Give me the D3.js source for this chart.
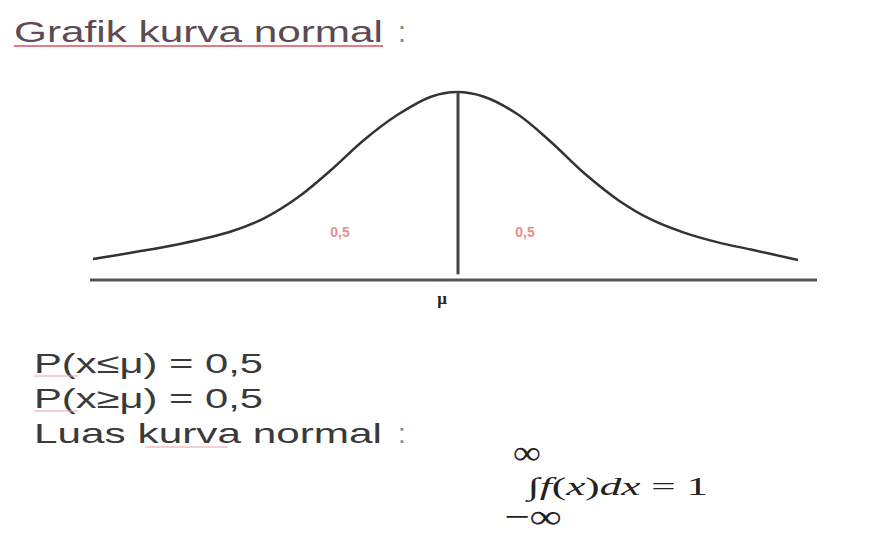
<!DOCTYPE html>
<html><head><meta charset="utf-8">
<script src="https://cdn.jsdelivr.net/npm/d3@7"></script>
<style>html,body{margin:0;padding:0;background:#fff;}svg{display:block;}</style>
</head><body>
<svg id="c" width="871" height="544"></svg>
<script>
// curve sample points (x relative to mu, y relative height above axis)
const curveX = [-3.64,-3.26,-2.76,-2.26,-1.93,-1.59,-1.26,-0.93,-0.59,-0.26,0,0.27,0.61,0.94,1.27,1.61,1.94,2.27,2.61,2.94,3.41];
const curveY = [0.112,0.145,0.193,0.258,0.328,0.440,0.585,0.745,0.880,0.975,1.0,0.975,0.880,0.734,0.569,0.426,0.322,0.252,0.200,0.162,0.106];
const axisExtent = [-3.67, 3.60];
const muValue = 0;
const areaLabels = ["0,5", "0,5"];
const areaLabelX = [-1.17, 0.68];
const areaLabelY = [0.26, 0.26];
const muLabel = "μ";
const title = "Grafik kurva normal";
const textLines = ["P(x≤μ) = 0,5", "P(x≥μ) = 0,5", "Luas kurva normal"];

const svg = d3.select("#c");
const x = d3.scaleLinear().domain(axisExtent).range([90, 817]);
const y = d3.scaleLinear().domain([0, 1]).range([280, 92]);

// title
svg.append("text").attr("x", 14).attr("y", 42)
  .attr("font-family", "Liberation Sans, Arial, sans-serif").attr("font-size", 29)
  .attr("fill", "#5e4a52").attr("textLength", 369).attr("lengthAdjust", "spacingAndGlyphs")
  .text(title);
svg.append("line").attr("x1", 14).attr("x2", 383).attr("y1", 46).attr("y2", 46)
  .attr("stroke", "#e57a84").attr("stroke-width", 2);
svg.append("text").attr("x", 398).attr("y", 42)
  .attr("font-family", "Liberation Sans, Arial, sans-serif").attr("font-size", 29)
  .attr("fill", "#888").text(":");

// axis line
svg.append("line").attr("x1", x(axisExtent[0])).attr("x2", x(axisExtent[1]))
  .attr("y1", y(0)).attr("y2", y(0)).attr("stroke", "#555").attr("stroke-width", 3);

// curve
const pts = curveX.map((d, i) => [d, curveY[i]]);
svg.append("path").datum(pts)
  .attr("d", d3.line().x(d => x(d[0])).y(d => y(d[1])).curve(d3.curveCatmullRom.alpha(0.5)))
  .attr("fill", "none").attr("stroke", "#333").attr("stroke-width", 2.5);

// mu vertical line
svg.append("line").attr("x1", x(muValue) + 1).attr("x2", x(muValue) + 1)
  .attr("y1", y(1)).attr("y2", y(0.03)).attr("stroke", "#444").attr("stroke-width", 3);

// area labels
svg.selectAll(".al").data(areaLabels).join("text").attr("class", "al")
  .attr("x", (d, i) => x(areaLabelX[i])).attr("y", (d, i) => y(areaLabelY[i]) + 6)
  .attr("text-anchor", "middle")
  .attr("font-family", "Liberation Sans, Arial, sans-serif").attr("font-size", 14).attr("font-weight", "bold")
  .attr("fill", "#e89090").text(d => d);

// mu label
svg.append("text").attr("x", x(muValue) - 15).attr("y", 304).attr("text-anchor", "middle")
  .attr("font-family", "Liberation Serif, Times New Roman, serif").attr("font-size", 17).attr("font-weight", "bold")
  .attr("fill", "#222").text(muLabel);

// text lines
const lineY = [373, 408, 443];
const lineW = [229, 229, 348];
svg.selectAll(".tl").data(textLines).join("text").attr("class", "tl")
  .attr("x", 34).attr("y", (d, i) => lineY[i])
  .attr("font-family", "Liberation Sans, Arial, sans-serif").attr("font-size", 28)
  .attr("fill", "#3a3a3a").attr("textLength", (d, i) => lineW[i]).attr("lengthAdjust", "spacingAndGlyphs")
  .text(d => d);
svg.append("text").attr("x", 398).attr("y", 443)
  .attr("font-family", "Liberation Sans, Arial, sans-serif").attr("font-size", 28)
  .attr("fill", "#888").text(":");
// faint underlines under P(x
[376, 411].forEach(yy => svg.append("line").attr("x1", 34).attr("x2", 78).attr("y1", yy).attr("y2", yy)
  .attr("stroke", "#e8a0a0").attr("stroke-width", 1));
svg.append("line").attr("x1", 145).attr("x2", 228).attr("y1", 447).attr("y2", 447)
  .attr("stroke", "#e8a0a0").attr("stroke-width", 1);

// integral formula
const serif = "Liberation Serif, Times New Roman, serif";
svg.append("text").attr("x", 513).attr("y", 464)
  .attr("font-family", serif).attr("font-size", 34).attr("fill", "#222")
  .attr("textLength", 28).attr("lengthAdjust", "spacingAndGlyphs").text("∞");
const f = svg.append("text").attr("x", 528).attr("y", 495)
  .attr("font-family", serif).attr("font-size", 25).attr("fill", "#222")
  .attr("textLength", 180).attr("lengthAdjust", "spacingAndGlyphs");
f.append("tspan").text("∫");
f.append("tspan").attr("font-style", "italic").text("f");
f.append("tspan").text("(");
f.append("tspan").attr("font-style", "italic").text("x");
f.append("tspan").text(")");
f.append("tspan").attr("font-style", "italic").text("dx");
f.append("tspan").text(" = 1");
svg.append("text").attr("x", 504).attr("y", 528)
  .attr("font-family", serif).attr("font-size", 34).attr("fill", "#222")
  .attr("textLength", 58).attr("lengthAdjust", "spacingAndGlyphs").text("−∞");
</script>
</body></html>
